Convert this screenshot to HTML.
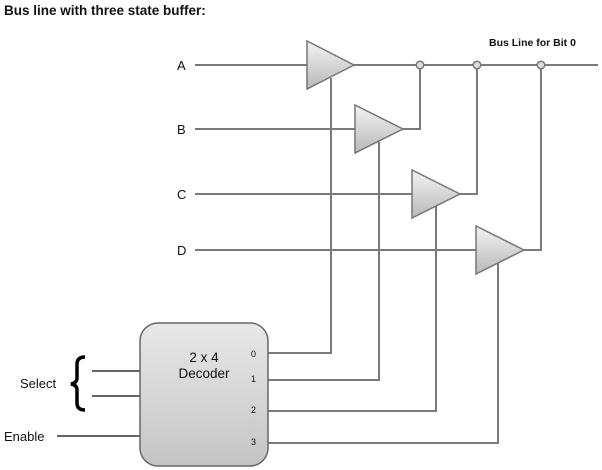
<!DOCTYPE html>
<html><head><style>body{margin:0;background:#fff}svg{display:block}</style></head><body>
<svg width="602" height="470" viewBox="0 0 602 470" xmlns="http://www.w3.org/2000/svg" font-family="Liberation Sans, Arial, sans-serif">
<defs>
<linearGradient id="g" x1="0" y1="0" x2="0" y2="1"><stop offset="0" stop-color="#f4f4f4"/><stop offset="1" stop-color="#b8b8b8"/></linearGradient>
<linearGradient id="d" x1="0" y1="0" x2="0" y2="1"><stop offset="0" stop-color="#e8e8e8"/><stop offset="1" stop-color="#c4c4c4"/></linearGradient>
</defs>
<text x="4" y="15" font-size="13.5" font-weight="bold" fill="#111">Bus line with three state buffer:</text>
<text x="489" y="46" font-size="10.5" font-weight="bold" fill="#111">Bus Line for Bit 0</text>
<g fill="none" stroke="#7a7a7a" stroke-width="2">
<path d="M195 65H598"/>
<path d="M195 129H355M403 129H420V65"/>
<path d="M195 194H412M460 194H477V65"/>
<path d="M195 250H476M524 250H541V65"/>
<path d="M268 353H331V78"/>
<path d="M268 380H379V142"/>
<path d="M268 411H436V206"/>
<path d="M268 443H498V262"/>
</g>
<g fill="url(#g)" stroke="#777" stroke-width="1.5">
<polygon points="307,41 307,89 354,65"/>
<polygon points="355,105 355,153 403,129"/>
<polygon points="412,170 412,218 460,194"/>
<polygon points="476,226 476,274 524,250"/>
</g>
<g fill="#ddd" stroke="#777" stroke-width="1.5">
<circle cx="420" cy="65" r="3.8"/><circle cx="477" cy="65" r="3.8"/><circle cx="541" cy="65" r="3.8"/>
</g>
<g font-size="13" fill="#111">
<text x="177" y="70">A</text><text x="177" y="134">B</text><text x="177" y="199">C</text><text x="177" y="255">D</text>
</g>
<g stroke="#333" stroke-width="1.6">
<path d="M92 371H140M92 396H140M57 436H140"/>
</g>
<rect x="140" y="323" width="128" height="143" rx="18" fill="url(#d)" stroke="#666" stroke-width="1.5"/>
<text x="204" y="362" font-size="13.5" text-anchor="middle" fill="#111">2 x 4</text>
<text x="204" y="378" font-size="13.5" text-anchor="middle" fill="#111">Decoder</text>
<g font-size="9" fill="#111">
<text x="251" y="357">0</text><text x="251" y="382">1</text><text x="251" y="413">2</text><text x="251" y="445">3</text>
</g>
<text x="20" y="388" font-size="13" fill="#111">Select</text>
<path d="M85 357 Q77 357 77 364 V378 Q77 383 71 384 Q77 385 77 390 V403 Q77 410 85 410" fill="none" stroke="#000" stroke-width="3.5"/>
<text x="4" y="441" font-size="13" fill="#111">Enable</text>
</svg>
</body></html>
